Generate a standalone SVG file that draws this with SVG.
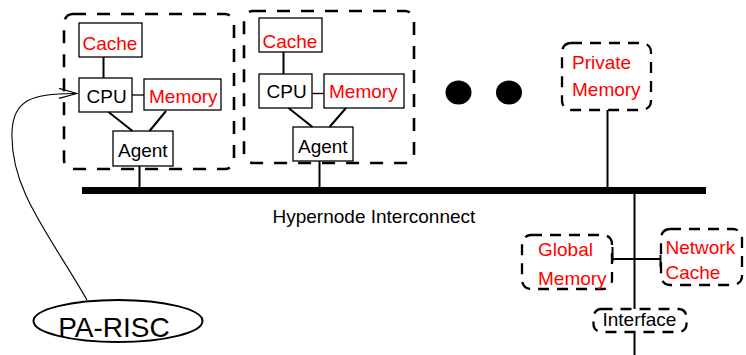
<svg xmlns="http://www.w3.org/2000/svg" width="746" height="355" viewBox="0 0 746 355">
  <defs>
    <style>
      text { font-family: "Liberation Sans", Arial, sans-serif; font-size: 19px; }
      .red { fill: #ff0000; }
      .blk { fill: #000000; }
      .box { fill: #ffffff; stroke: #000000; stroke-width: 1.3; }
      .group { fill: none; stroke: #000000; stroke-width: 2.6; stroke-dasharray: 13 11; }
      .dbox { fill: none; stroke: #000000; stroke-width: 2.3; stroke-dasharray: 11 8; }
      .wire { fill: none; stroke: #000000; stroke-width: 2; }
      .thin { fill: none; stroke: #000000; stroke-width: 1.3; }
    </style>
    <marker id="openArrow" viewBox="0 0 20 12" refX="19" refY="6" markerWidth="20" markerHeight="12" markerUnits="userSpaceOnUse" orient="auto">
      <path d="M1,1 L19,6 L1,11" fill="none" stroke="#000" stroke-width="1.2"/>
    </marker>
  </defs>

  <!-- Hypernode 1 -->
  <g id="hypernode1">
    <rect class="group" x="64" y="14" width="170" height="155" rx="9"/>
    <g id="cache1"><rect class="box" x="79" y="23" width="63" height="34"/><text class="red" x="82.5" y="50">Cache</text></g>
    <g id="cpu1"><rect class="box" x="79" y="78" width="53" height="34"/><text class="blk" x="86.5" y="103">CPU</text></g>
    <g id="memory1"><rect class="box" x="144" y="79" width="77" height="31"/><text class="red" x="149" y="103">Memory</text></g>
    <g id="agent1"><rect class="box" x="113" y="131" width="60" height="35"/><text class="blk" x="118" y="156.5">Agent</text></g>
  </g>

  <!-- Hypernode 2 -->
  <g id="hypernode2">
    <rect class="group" x="244" y="11" width="170" height="152" rx="9"/>
    <g id="cache2"><rect class="box" x="259" y="18" width="63" height="34"/><text class="red" x="262.5" y="47.5">Cache</text></g>
    <g id="cpu2"><rect class="box" x="259" y="74" width="53" height="34"/><text class="blk" x="266.5" y="97.5">CPU</text></g>
    <g id="memory2"><rect class="box" x="324" y="74" width="80" height="34"/><text class="red" x="329" y="97.5">Memory</text></g>
    <g id="agent2"><rect class="box" x="293" y="127" width="60" height="34"/><text class="blk" x="298" y="152.5">Agent</text></g>
  </g>

  <!-- ellipsis dots -->
  <g id="ellipsis">
    <ellipse cx="458.5" cy="92.5" rx="13" ry="12" fill="#000"/>
    <ellipse cx="509" cy="92.5" rx="13" ry="12" fill="#000"/>
  </g>

  <g id="privateMemory">
    <rect class="dbox" x="562" y="43" width="89" height="67" rx="9"/>
    <text class="red" x="572" y="68.5">Private</text>
    <text class="red" x="572" y="95.5">Memory</text>
  </g>

  <g id="globalMemory">
    <rect class="dbox" x="522" y="235" width="90" height="54" rx="9"/>
    <text class="red" x="538" y="256">Global</text>
    <text class="red" x="538" y="285">Memory</text>
  </g>

  <g id="networkCache">
    <rect class="dbox" x="661" y="229" width="81" height="56" rx="9"/>
    <text class="red" x="665.5" y="253.5">Network</text>
    <text class="red" x="665.5" y="279">Cache</text>
  </g>

  <g id="interface">
    <rect class="dbox" x="593.5" y="309" width="93" height="23" rx="8"/>
    <text class="blk" x="602.5" y="325.5">Interface</text>
  </g>

  <g id="paRisc">
    <ellipse cx="118" cy="321" rx="84.5" ry="21" fill="#fff" stroke="#000" stroke-width="2"/>
    <text class="blk" x="114" y="336.5" text-anchor="middle" style="font-size:28px">PA-RISC</text>
  </g>

  <g id="bus">
    <rect x="82" y="187" width="624" height="7" fill="#000"/>
    <text class="blk" x="272.5" y="222.5">Hypernode Interconnect</text>
  </g>

  <!-- connectors -->
  <g id="connectors">
    <line class="wire" x1="103.5" y1="57" x2="103.5" y2="78"/>
    <line class="thin" x1="132" y1="95" x2="144" y2="95"/>
    <line class="wire" x1="108.5" y1="112" x2="132.5" y2="131" stroke-width="2.5"/>
    <line class="wire" x1="166" y1="111" x2="149.5" y2="131" stroke-width="2.5"/>
    <line class="wire" x1="139.5" y1="166" x2="139.5" y2="187"/>

    <line class="wire" x1="283.5" y1="52" x2="283.5" y2="74"/>
    <line class="thin" x1="312" y1="93.5" x2="324" y2="93.5"/>
    <line class="wire" x1="288.5" y1="108" x2="312.5" y2="127" stroke-width="2.5"/>
    <line class="wire" x1="346" y1="108" x2="329.5" y2="127" stroke-width="2.5"/>
    <line class="wire" x1="319.5" y1="161" x2="319.5" y2="187"/>

    <line class="wire" x1="607.5" y1="110" x2="607.5" y2="187"/>

    <line class="wire" x1="634.5" y1="194" x2="634.5" y2="309"/>
    <line class="wire" x1="612.5" y1="259" x2="660.5" y2="259"/>
    <line class="wire" x1="612.5" y1="247" x2="612.5" y2="262"/>
    <line class="wire" x1="660.5" y1="255" x2="660.5" y2="267"/>
    <line class="wire" x1="634.5" y1="332" x2="634.5" y2="355"/>

    <path d="M87,300 C50,235 10,190 12,132 C13,100 32,93 77,93.5" fill="none" stroke="#000" stroke-width="1.1" marker-end="url(#openArrow)"/>
  </g>
</svg>
